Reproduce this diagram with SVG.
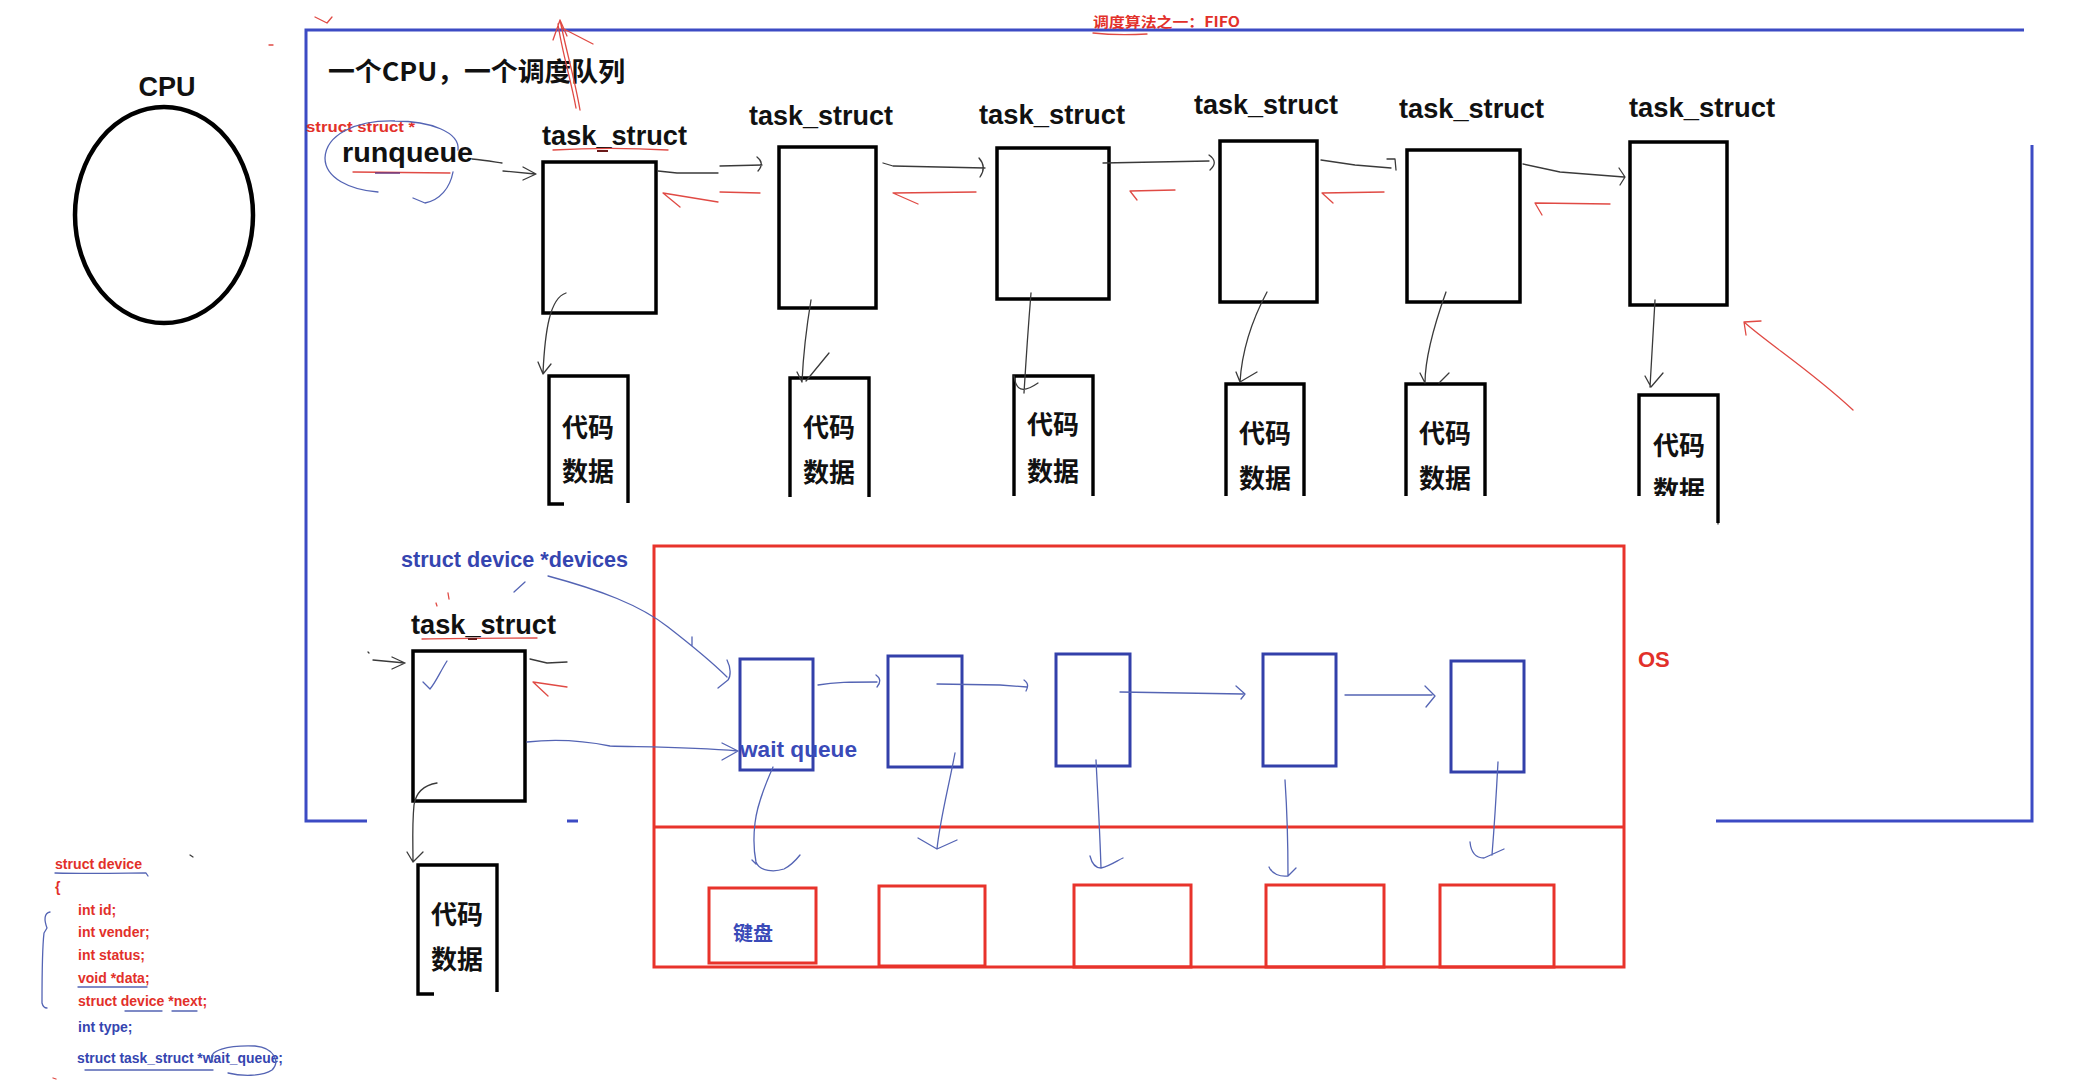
<svg xmlns="http://www.w3.org/2000/svg" width="2075" height="1087" viewBox="0 0 2075 1087">
<defs>
<style>
.lbl{font-family:"Liberation Sans","Noto Sans CJK SC",sans-serif;font-weight:700;fill:#111;font-size:27px}
.cjk{font-family:"Noto Sans CJK SC","Liberation Sans",sans-serif;font-weight:700;fill:#111}
.cd{font-family:"Noto Sans CJK SC",sans-serif;font-weight:700;fill:#111;font-size:26px;text-anchor:middle}
.code{font-family:"Liberation Sans",sans-serif;font-weight:700;font-size:14px}
.red{fill:#e2302a}
.blu{fill:#3545b0}
.box{fill:none;stroke:#000;stroke-width:3.5}
.obox{fill:none;stroke:#000;stroke-width:3.4;stroke-linejoin:miter}
.bbox{fill:none;stroke:#3340aa;stroke-width:3}
.rbox{fill:none;stroke:#e8332b;stroke-width:3}
.frame{fill:none;stroke:#3c4bc4;stroke-width:3}
.ink{fill:none;stroke:#3a3a3a;stroke-width:1.3;stroke-linecap:round;stroke-linejoin:round}
.rink{fill:none;stroke:#e04a44;stroke-width:1.3;stroke-linecap:round;stroke-linejoin:round}
.bink{fill:none;stroke:#5464b4;stroke-width:1.3;stroke-linecap:round;stroke-linejoin:round}
</style>
<clipPath id="clip6"><rect x="1600" y="380" width="160" height="116"/></clipPath>
</defs>
<rect width="2075" height="1087" fill="#fff"/>

<g id="frame">
<path class="frame" d="M2024 30 L306 30 L306 821 L367 821"/>
<path class="frame" d="M567 821 L578 821"/>
<path class="frame" d="M2032 145 L2032 821 L1716 821"/>
<path class="ink" d="M1718 518 L1718 524"/>
</g>

<g id="node-cpu">
<text class="lbl" x="167" y="96" text-anchor="middle">CPU</text>
<ellipse cx="164" cy="215" rx="89" ry="108" fill="none" stroke="#000" stroke-width="4.5"/>
</g>

<g id="node-title">
<text class="cjk" x="328" y="81" font-size="26" textLength="297" lengthAdjust="spacingAndGlyphs">一个CPU，一个调度队列</text>
<text class="cjk" x="1093" y="27" font-size="14" textLength="147" lengthAdjust="spacingAndGlyphs" style="fill:#e2302a">调度算法之一：FIFO</text>
<path class="rink" d="M1093 33 C1110 35 1130 35 1147 34" stroke-width="1"/>
</g>

<g id="node-runqueue">
<text class="code red" x="306" y="132" textLength="109" lengthAdjust="spacingAndGlyphs" style="font-size:15px">struct struct *</text>
<text class="lbl" x="342" y="162" textLength="131" lengthAdjust="spacingAndGlyphs">runqueue</text>
<path class="rink" d="M353 172 L450 173"/>
<path d="M375 173 L400 173" stroke="#6a3a80" stroke-width="1.5" fill="none"/>
<path class="bink" d="M378 192 C350 190 325 178 325 158 C326 135 355 120 395 121 C430 121 460 132 458 150"/>
<path class="bink" d="M453 172 C450 188 440 200 425 203 L413 198"/>
</g>

<g id="node-task1">
<text class="lbl" x="542" y="145" textLength="145" lengthAdjust="spacingAndGlyphs">task_struct</text>
<path class="rink" d="M553 150 C590 148 630 148 668 150" stroke-width="1.2"/>
<path d="M597 151 L608 151" stroke="#6a1a1a" stroke-width="2"/>
<rect class="box" x="543" y="162" width="113" height="151"/>
</g>
<g id="node-task2">
<text class="lbl" x="749" y="125" textLength="144" lengthAdjust="spacingAndGlyphs">task_struct</text>
<rect class="box" x="779" y="147" width="97" height="161"/>
</g>
<g id="node-task3">
<text class="lbl" x="979" y="124" textLength="146" lengthAdjust="spacingAndGlyphs">task_struct</text>
<rect class="box" x="997" y="148" width="112" height="151"/>
</g>
<g id="node-task4">
<text class="lbl" x="1194" y="114" textLength="144" lengthAdjust="spacingAndGlyphs">task_struct</text>
<rect class="box" x="1220" y="141" width="97" height="161"/>
</g>
<g id="node-task5">
<text class="lbl" x="1399" y="118" textLength="145" lengthAdjust="spacingAndGlyphs">task_struct</text>
<rect class="box" x="1407" y="150" width="113" height="152"/>
</g>
<g id="node-task6">
<text class="lbl" x="1629" y="117" textLength="146" lengthAdjust="spacingAndGlyphs">task_struct</text>
<rect class="box" x="1630" y="142" width="97" height="163"/>
</g>

<g id="node-code1">
<path class="obox" d="M564 504 L549 504 L549 376 L628 376 L628 503"/>
<text class="cd" x="588" y="437">代码</text>
<text class="cd" x="588" y="481">数据</text>
</g>
<g id="node-code2">
<path class="obox" d="M790 497 L790 378 L869 378 L869 497"/>
<text class="cd" x="829" y="437">代码</text>
<text class="cd" x="829" y="482">数据</text>
</g>
<g id="node-code3">
<path class="obox" d="M1014 496 L1014 376 L1093 376 L1093 496"/>
<text class="cd" x="1053" y="434">代码</text>
<text class="cd" x="1053" y="481">数据</text>
</g>
<g id="node-code4">
<path class="obox" d="M1226 496 L1226 384 L1304 384 L1304 496"/>
<text class="cd" x="1265" y="443">代码</text>
<text class="cd" x="1265" y="488">数据</text>
</g>
<g id="node-code5">
<path class="obox" d="M1406 496 L1406 384 L1485 384 L1485 496"/>
<text class="cd" x="1445" y="443">代码</text>
<text class="cd" x="1445" y="488">数据</text>
</g>
<g id="node-code6">
<path class="obox" d="M1639 496 L1639 395 L1718 395 L1718 523"/>
<text class="cd" x="1679" y="455">代码</text>
<text class="cd" x="1679" y="500" clip-path="url(#clip6)">数据</text>
</g>

<g id="node-devices-label">
<text class="lbl" x="401" y="567" style="font-size:22px;fill:#3545b0" textLength="227" lengthAdjust="spacingAndGlyphs">struct device *devices</text>
</g>

<g id="node-task7">
<text class="lbl" x="411" y="634" textLength="145" lengthAdjust="spacingAndGlyphs">task_struct</text>
<path class="rink" d="M422 639 C460 638 500 638 537 638" stroke-width="1.2"/>
<path d="M468 639 L477 639" stroke="#6a1a1a" stroke-width="2"/>
<rect class="box" x="413" y="651" width="112" height="150"/>
</g>
<g id="node-code7">
<path class="obox" d="M434 994 L418 994 L418 865 L497 865 L497 992"/>
<text class="cd" x="457" y="924">代码</text>
<text class="cd" x="457" y="969">数据</text>
</g>

<g id="node-os">
<rect class="rbox" x="654" y="546" width="970" height="421"/>
<path class="rbox" d="M654 827 L1624 827"/>
<text class="lbl" x="1638" y="667" style="font-size:22px;fill:#e2302a">OS</text>
</g>

<g id="node-wq1">
<rect class="bbox" x="740" y="659" width="73" height="111"/>
<text class="lbl" x="740" y="757" style="font-size:22px;fill:#3a4ab8" textLength="117" lengthAdjust="spacingAndGlyphs">wait queue</text>
</g>
<g id="node-wq2"><rect class="bbox" x="888" y="656" width="74" height="111"/></g>
<g id="node-wq3"><rect class="bbox" x="1056" y="654" width="74" height="112"/></g>
<g id="node-wq4"><rect class="bbox" x="1263" y="654" width="73" height="112"/></g>
<g id="node-wq5"><rect class="bbox" x="1451" y="661" width="73" height="111"/></g>

<g id="node-dev1">
<rect class="rbox" x="709" y="888" width="107" height="75"/>
<text class="cjk" x="733" y="941" font-size="20" style="fill:#3a4ab8">键盘</text>
</g>
<g id="node-dev2"><rect class="rbox" x="879" y="886" width="106" height="80"/></g>
<g id="node-dev3"><rect class="rbox" x="1074" y="885" width="117" height="82"/></g>
<g id="node-dev4"><rect class="rbox" x="1266" y="885" width="118" height="82"/></g>
<g id="node-dev5"><rect class="rbox" x="1440" y="885" width="114" height="82"/></g>

<g id="node-struct-def">
<text class="code red" x="55" y="869" textLength="87" lengthAdjust="spacingAndGlyphs">struct device</text>
<text class="code red" x="55" y="892">{</text>
<text class="code red" x="78" y="915">int id;</text>
<text class="code red" x="78" y="937">int vender;</text>
<text class="code red" x="78" y="960">int status;</text>
<text class="code red" x="78" y="983">void *data;</text>
<text class="code red" x="78" y="1006">struct device *next;</text>
<text class="code blu" x="78" y="1032">int type;</text>
<text class="code blu" x="77" y="1063" textLength="206" lengthAdjust="spacingAndGlyphs">struct task_struct *wait_queue;</text>
<path class="bink" d="M55 873 C90 874 130 873 146 873 L148 876" stroke-width="1.1"/>
<path class="bink" d="M78 987 L147 987" stroke-width="1.1"/>
<path class="bink" d="M125 1011 L162 1011 M172 1011 L197 1011" stroke-width="1.1"/>
<path class="bink" d="M85 1070 L213 1070" stroke-width="1.1"/>
<path class="bink" d="M213 1062 C205 1050 230 1045 255 1046 C275 1048 280 1062 272 1070 C262 1077 240 1076 228 1073" stroke-width="1.1"/>
<path class="bink" d="M50 912 C44 913 44 920 47 928 L44 933 C42 950 42 980 42 1003 C43 1007 45 1008 47 1008" stroke-width="1.1"/>
<path class="rink" d="M53 1078 L56 1079"/>
<path class="ink" d="M190 855 L193 857"/>
</g>

<g id="connectors">
<path class="rink" d="M315 17 L327 23 L332 17"/>
<path class="rink" d="M269 45 L273 45"/>
<path class="rink" d="M580 110 C575 80 566 50 560 20 M576 108 C571 80 562 52 558 24 M553 40 L560 20 L567 36 M562 28 L593 44"/>
<path class="ink" d="M472 159 C485 160 495 162 502 163 M503 171 L535 174 M523 167 L536 174 L523 180"/>
<path class="ink" d="M658 171 L677 173 L718 173 M720 166 L762 165 M757 157 Q765 163 758 171"/>
<path class="ink" d="M883 163 L893 166 L985 168 M979 158 Q987 167 980 177"/>
<path class="ink" d="M1103 163 L1209 161 M1209 155 Q1219 162 1210 170"/>
<path class="ink" d="M1321 160 L1355 165 L1391 168 M1387 159 L1395 159 L1396 170"/>
<path class="ink" d="M1523 164 L1560 172 L1624 177 M1619 168 L1625 177 L1620 185"/>
<path class="rink" d="M760 193 L720 192 M718 202 L663 193 L680 207"/>
<path class="rink" d="M976 192 L893 193 L918 204"/>
<path class="rink" d="M1175 190 L1130 191 L1137 200"/>
<path class="rink" d="M1384 192 L1322 193 L1333 203"/>
<path class="rink" d="M1610 204 L1535 203 L1542 215"/>
<path class="ink" d="M566 293 C550 298 545 330 543 373 M538 362 L543 374 L551 364"/>
<path class="ink" d="M811 300 C806 330 803 360 802 382 M829 353 L806 381 M797 372 L802 382"/>
<path class="ink" d="M1031 293 C1028 330 1026 360 1024 393 M1014 376 C1016 390 1022 394 1038 383"/>
<path class="ink" d="M1267 292 C1252 320 1242 350 1240 382 M1236 372 L1240 382 L1257 372"/>
<path class="ink" d="M1446 292 C1436 320 1425 355 1425 383 M1439 383 L1449 373 M1420 373 L1425 383"/>
<path class="ink" d="M1655 300 L1650 387 M1645 376 L1651 387 L1663 373"/>
<path class="rink" d="M1853 410 C1810 370 1770 345 1744 322 M1744 322 L1761 321 M1744 322 L1746 335"/>
<path class="bink" d="M548 576 C600 590 640 605 668 627 C695 648 715 665 727 677 M727 660 C731 668 731 676 728 680 L718 688 M692 637 L692 646"/>
<path class="bink" d="M525 582 L514 592"/>
<path class="rink" d="M448 593 L449 599 M436 603 L437 606"/>
<path class="ink" d="M373 660 L405 663 M392 657 L405 663 L392 669"/>
<path class="ink" d="M368 652 L369 653"/>
<path class="ink" d="M530 659 L547 663 L567 662"/>
<path class="rink" d="M567 687 L533 682 L548 696"/>
<path class="bink" d="M447 661 C440 672 436 682 430 689 L423 682"/>
<path class="bink" d="M527 742 C545 740 575 739 610 746 C640 747 690 747 738 751 M722 743 L738 751 L722 760"/>
<path class="ink" d="M437 783 C425 785 416 792 414 805 C412 825 413 845 413 862 M407 852 L413 862 L423 852"/>
<path class="bink" d="M818 685 C835 682 850 682 877 682 M876 675 Q883 680 877 687"/>
<path class="bink" d="M937 684 L1000 685 L1027 687 M1024 680 Q1030 684 1026 691"/>
<path class="bink" d="M1120 692 L1243 694 M1236 686 L1245 694 L1241 699"/>
<path class="bink" d="M1345 695 L1432 695 M1425 686 L1435 696 L1426 707"/>
<path class="bink" d="M773 767 C765 785 757 805 755 823 C753 840 754 852 756 862 C760 872 775 872 784 869 C790 866 796 860 800 855 M752 860 L756 864"/>
<path class="bink" d="M955 753 C948 790 940 820 937 849 M918 838 L937 849 L957 840"/>
<path class="bink" d="M1096 760 C1098 800 1100 835 1101 868 M1090 856 C1092 864 1096 868 1101 868 C1110 866 1118 860 1123 858"/>
<path class="bink" d="M1285 780 C1287 810 1288 845 1288 876 M1269 867 C1272 874 1280 877 1288 876 L1296 868"/>
<path class="bink" d="M1498 762 C1496 800 1494 830 1492 855 M1470 842 C1471 852 1476 858 1484 858 L1504 849"/>
</g>
</svg>
